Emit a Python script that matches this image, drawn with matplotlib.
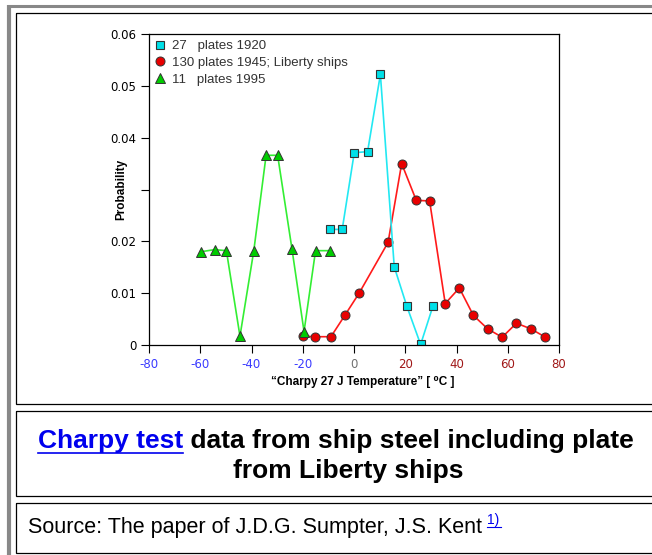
import matplotlib.pyplot as plt
from matplotlib.patches import Rectangle
from matplotlib.lines import Line2D

# 27 plates, 1920
temp_1920 = [-9.5, -4.6, 0.1, 5.3, 10.3, 15.7, 20.6, 26.0, 30.8]
prob_1920 = [0.0223, 0.0223, 0.0371, 0.0373, 0.0522, 0.0151, 0.0075, 0.0001, 0.0075]

# 130 plates, 1945 (Liberty ships)
temp_1945 = [-19.8, -15.3, -9.0, -3.6, 2.0, 13.3, 18.6, 24.3, 29.5, 35.6,
             41.1, 46.6, 52.2, 57.8, 63.4, 69.1, 74.7]
prob_1945 = [0.0017, 0.0016, 0.0016, 0.0057, 0.0100, 0.0198, 0.0350, 0.0279, 0.0278, 0.0080,
             0.0110, 0.0057, 0.0031, 0.0015, 0.0042, 0.0031, 0.0015]

# 11 plates, 1995
temp_1995 = [-59.6, -54.4, -49.8, -44.5, -39.1, -34.3, -29.8, -24.2, -19.5, -15.0, -9.4]
prob_1995 = [0.0180, 0.0184, 0.0182, 0.0017, 0.0182, 0.0366, 0.0366, 0.0185, 0.0026, 0.0182, 0.0182]

labels = ['27   plates 1920', '130 plates 1945; Liberty ships', '11   plates 1995']
xticks = [-80, -60, -40, -20, 0, 20, 40, 60, 80]
xtick_colors = ['#3a3aff'] * 4 + ['#707070'] + ['#a01818'] * 4
yticks = [0, 0.01, 0.02, 0.03, 0.04, 0.05, 0.06]
ytick_labels = ['0', '0.01', '0.02', '', '0.04', '0.05', '0.06']

FAM = ['Liberation Sans', 'DejaVu Sans']

W, H = 652, 555
fig = plt.figure(figsize=(W / 100, H / 100), dpi=100)

# page frame, in pixel coordinates
bg = fig.add_axes([0, 0, 1, 1])
bg.set_xlim(0, W)
bg.set_ylim(H, 0)
bg.axis('off')
bg.plot([9, 9], [5, H], color='#888888', lw=3, solid_capstyle='butt')
bg.plot([7, W], [6, 6], color='#888888', lw=2.2, solid_capstyle='butt')
bg.add_patch(Rectangle((16, 13), 700, 391, fill=False, edgecolor='black', lw=0.9))
bg.add_patch(Rectangle((16, 411), 700, 85, fill=False, edgecolor='black', lw=0.9))
bg.add_patch(Rectangle((16, 503), 700, 50, fill=False, edgecolor='black', lw=0.9))

ax = fig.add_axes([149 / W, 1 - 345 / H, 410 / W, 311 / H])
s1920 = dict(marker='s', color='#22e8f2', ms=6, mfc='#00e0e8', mec='#333333', mew=0.8)
s1945 = dict(marker='o', color='#ff1a1a', ms=6.5, mfc='#e80000', mec='#333333', mew=0.7)
s1995 = dict(marker='^', color='#33ee33', ms=7, mfc='#00cc00', mec='#333333', mew=0.7)
ax.plot(temp_1945, prob_1945, lw=1.2, **s1945)
ax.plot(temp_1920, prob_1920, lw=1.2, **s1920)
ax.plot(temp_1995, prob_1995, lw=1.2, **s1995)

ax.set_xlim(-80, 80)
ax.set_ylim(0, 0.06)
ax.set_xticks(xticks)
ax.set_xticklabels([str(t) for t in xticks])
for lbl, c in zip(ax.get_xticklabels(), xtick_colors):
    lbl.set_color(c)
ax.set_yticks(yticks)
ax.set_yticklabels(ytick_labels)
ax.tick_params(direction='out', length=6, width=0.8, labelsize=8.5, pad=3)
for s in ax.spines.values():
    s.set_linewidth(0.9)

ax.set_ylabel('Probability', fontweight='bold', fontsize=8.5, family=FAM)
ax.yaxis.set_label_coords(-0.068, 0.5)
ax.yaxis.label.set_va('center')
ax.set_xlabel('\u201cCharpy 27 J Temperature\u201d [ \u2070C ]', fontweight='bold',
              fontsize=8.5, family=FAM)
ax.xaxis.set_label_coords(0.52, -0.119)
ax.xaxis.label.set_va('center')

handles = [Line2D([], [], ls='none', **s) for s in (s1920, s1945, s1995)]
leg = ax.legend(handles, labels, loc='upper left', frameon=False,
                prop={'family': 'Liberation Sans', 'size': 9.5},
                handlelength=0.8, handletextpad=0.5, labelspacing=0.35,
                borderaxespad=0.25, borderpad=0.2)
for t in leg.get_texts():
    t.set_color('#333333')

# caption
cap_font = dict(family='Liberation Sans', fontweight='bold', fontsize=19, va='center')
t1 = bg.text(38, 441, 'Charpy test', color='#0000ee', ha='left', **cap_font)
fig.canvas.draw()
r = fig.canvas.get_renderer()
w1 = t1.get_window_extent(r).width
bg.plot([38, 38 + w1], [453, 453], color='#0000ee', lw=1.2)
bg.text(38 + w1, 441, ' data from ship steel including plate', color='black', ha='left', **cap_font)
bg.text(348, 471, 'from Liberty ships', color='black', ha='center', **cap_font)

# source
src = bg.text(28, 528, 'Source: The paper of J.D.G. Sumpter, J.S. Kent', family='Liberation Sans',
              fontsize=15.5, color='black', ha='left', va='center')
fig.canvas.draw()
ws = src.get_window_extent(r).width
bg.text(28 + ws + 5, 520, '1)', family='Liberation Sans', fontsize=10, color='#0000ee',
        ha='left', va='center')
bg.plot([28 + ws + 5, 28 + ws + 19], [527, 527], color='#0000ee', lw=0.8)

fig.savefig('out.png', dpi=100)
